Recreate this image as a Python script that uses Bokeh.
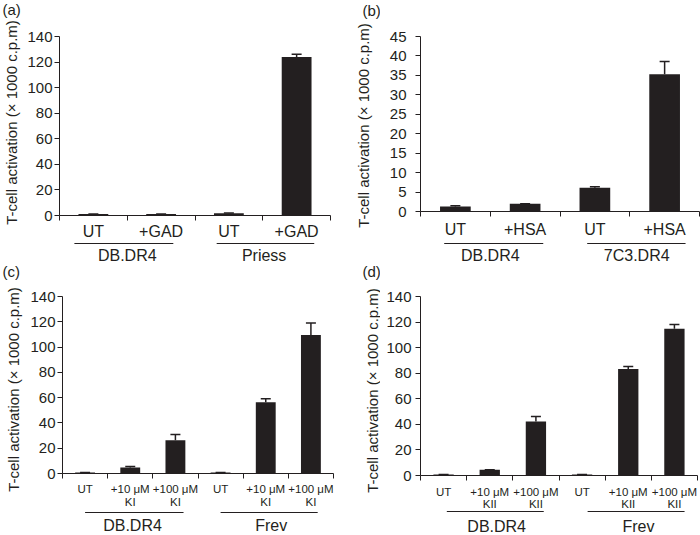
import math
from bokeh.plotting import figure
from bokeh.models import Range1d, FixedTicker, Whisker, ColumnDataSource, TeeHead
from bokeh.layouts import column, row
from bokeh.embed import file_html
from bokeh.resources import INLINE
from bokeh.core.properties import value

# ---------------- data ----------------
y_title = "T-cell activation (\u00d7 1000 c.p.m)"

# (a)
a_cats = ["UT", "+GAD", "UT", "+GAD"]
a_groups = ["DB.DR4", "Priess"]
a_vals = [1.2, 1.2, 1.8, 124.0]
a_errs = [0.0, 0.0, 0.2, 2.2]
a_yticks = [0, 20, 40, 60, 80, 100, 120, 140]

# (b)
b_cats = ["UT", "+HSA", "UT", "+HSA"]
b_groups = ["DB.DR4", "7C3.DR4"]
b_vals = [1.3, 2.0, 6.1, 35.3]
b_errs = [0.2, 0.0, 0.25, 3.3]
b_yticks = [0, 5, 10, 15, 20, 25, 30, 35, 40, 45]

# (c)
c_cats1 = ["UT", "+10 \u03bcM", "+100 \u03bcM", "UT", "+10 \u03bcM", "+100 \u03bcM"]
c_cats2 = ["", "KI", "KI", "", "KI", "KI"]
c_groups = ["DB.DR4", "Frev"]
c_vals = [0.8, 4.7, 26.3, 0.8, 56.3, 109.5]
c_errs = [0.0, 0.8, 4.5, 0.0, 2.9, 9.5]
c_yticks = [0, 20, 40, 60, 80, 100, 120, 140]

# (d)
d_cats1 = ["UT", "+10 \u03bcM", "+100 \u03bcM", "UT", "+10 \u03bcM", "+100 \u03bcM"]
d_cats2 = ["", "KII", "KII", "", "KII", "KII"]
d_groups = ["DB.DR4", "Frev"]
d_vals = [0.8, 4.4, 42.2, 0.8, 83.2, 114.7]
d_errs = [0.0, 0.0, 3.9, 0.0, 2.0, 3.4]
d_yticks = [0, 20, 40, 60, 80, 100, 120, 140]

FONT = "Liberation Sans"
INK = "#231f20"


def bare(fig):
    fig.outline_line_color = None
    fig.grid.visible = False
    fig.background_fill_color = "white"
    fig.border_fill_color = "white"


def make_panel(label, cats1, cats2, groups, vals, errs, yticks, ymax, g):
    n = len(vals)
    xs = [i + 0.5 for i in range(n)]
    mh = g["top"] + g["fh"] + 8
    H = mh + g["sh"]

    # left strip: panel letter + vertical axis title
    lw = g["lw"]
    lf = figure(width=lw, height=H, x_range=Range1d(0, lw), y_range=Range1d(0, H),
                output_backend="svg", toolbar_location=None,
                x_axis_location=None, y_axis_location=None,
                min_border_left=0, min_border_right=0, min_border_top=0, min_border_bottom=0)
    bare(lf)
    lf.text(x=[g["lx"]], y=[H - g["ly"]], text=[y_title], angle=math.pi / 2,
            text_align="center", text_baseline="middle", text_font=value(FONT),
            text_font_size=value("15px"), text_color=INK)
    lf.text(x=[g["px"]], y=[H - g["py"]], text=[label], text_align="left",
            text_baseline="middle", text_font=value(FONT),
            text_font_size=value("15px"), text_color=INK)

    # main plot
    p = figure(width=g["W"], height=mh,
               x_range=Range1d(0, n), y_range=Range1d(0, ymax),
               output_backend="svg", toolbar_location=None,
               min_border_left=g["L"], min_border_right=g["R"],
               min_border_top=g["top"], min_border_bottom=8)
    bare(p)

    src = ColumnDataSource(dict(x=xs, top=vals, upper=[v + e for v, e in zip(vals, errs)]))
    p.vbar(x="x", top="top", width=0.44, source=src, fill_color=INK, line_color=None)
    w = Whisker(base="x", lower="top", upper="upper", source=src,
                line_color=INK, line_width=1.5,
                upper_head=TeeHead(size=10, line_color=INK, line_width=1.5),
                lower_head=None)
    p.add_layout(w)

    # x axis: only tick marks at category boundaries (as minor ticks, no labels)
    xa = p.xaxis[0]
    xa.ticker = FixedTicker(ticks=[], minor_ticks=list(range(n + 1)))
    xa.minor_tick_out = 5
    xa.minor_tick_in = 0
    xa.minor_tick_line_color = INK
    xa.major_tick_line_color = None
    xa.axis_line_color = INK

    ya = p.yaxis[0]
    ya.ticker = FixedTicker(ticks=yticks)
    ya.minor_tick_line_color = None
    ya.major_tick_out = 5
    ya.major_tick_in = 0
    ya.axis_line_color = INK
    ya.major_tick_line_color = INK
    ya.major_label_text_font = FONT
    ya.major_label_text_font_size = "15px"
    ya.major_label_text_color = INK
    ya.major_label_standoff = g["ls"]

    # strip below: category labels, group underlines and group names
    sh = g["sh"]
    s = figure(width=g["W"], height=sh, x_range=p.x_range, y_range=Range1d(sh, 0),
               output_backend="svg", toolbar_location=None,
               x_axis_location=None, y_axis_location=None,
               min_border_left=g["L"], min_border_right=g["R"],
               min_border_top=0, min_border_bottom=0)
    bare(s)
    s.text(x=xs, y=[g["y1"]] * n, text=cats1, text_align="center", text_baseline="middle",
           text_font=value(FONT), text_font_size=value(g["cfs"]), text_color=INK)
    if cats2 is not None:
        xs2 = [x for x, t in zip(xs, cats2) if t]
        t2 = [t for t in cats2 if t]
        s.text(x=xs2, y=[g["y2"]] * len(t2), text=t2, text_align="center",
               text_baseline="middle", text_font=value(FONT),
               text_font_size=value(g["cfs"]), text_color=INK)
    ul = g["ul"]
    s.segment(x0=[u[0] for u in ul], x1=[u[1] for u in ul], y0=[g["yu"]] * len(ul),
              y1=[g["yu"]] * len(ul), line_color=INK, line_width=1)
    s.text(x=g["gx"], y=[g["yg"]] * len(groups), text=groups, text_align="center",
           text_baseline="middle", text_font=value(FONT), text_font_size=value("16px"),
           text_color=INK)
    return row(lf, column(p, s, spacing=0), spacing=0)


ga = dict(lw=24, lx=11, ly=122, px=2, py=9,
          W=326, L=34, R=20, top=36, fh=179, ls=2,
          sh=40, y1=8, y2=None, yu=20, yg=32, cfs="16px",
          ul=[(0.22, 1.68), (2.32, 3.76)], gx=[1.0, 3.02])
gb = dict(lw=30, lx=13, ly=125, px=12, py=10,
          W=320, L=40, R=1, top=36, fh=175, ls=9,
          sh=44, y1=10, y2=None, yu=24, yg=36, cfs="16px",
          ul=[(0.34, 1.76), (2.39, 3.8)], gx=[1.0, 3.1])
gc = dict(lw=24, lx=13, ly=126, px=2, py=8,
          W=326, L=38, R=17, top=33, fh=177, ls=2,
          sh=54, y1=7, y2=20, yu=31, yg=44, cfs="11.5px",
          ul=[(0.5, 2.68), (3.5, 5.65)], gx=[1.55, 4.62])
gd = dict(lw=30, lx=22, ly=127, px=12, py=8,
          W=320, L=40, R=3, top=33, fh=179, ls=4,
          sh=52, y1=8, y2=20, yu=28, yg=43, cfs="11.5px",
          ul=[(0.57, 2.67), (3.62, 5.72)], gx=[1.65, 4.72])

pa = make_panel("(a)", a_cats, None, a_groups, a_vals, a_errs, a_yticks, 140, ga)
pb = make_panel("(b)", b_cats, None, b_groups, b_vals, b_errs, b_yticks, 45, gb)
pc = make_panel("(c)", c_cats1, c_cats2, c_groups, c_vals, c_errs, c_yticks, 140, gc)
pd = make_panel("(d)", d_cats1, d_cats2, d_groups, d_vals, d_errs, d_yticks, 140, gd)

layout = column(row(pa, pb, spacing=0), row(pc, pd, spacing=0), spacing=0)

open("out.html", "w").write(file_html(layout, INLINE))
